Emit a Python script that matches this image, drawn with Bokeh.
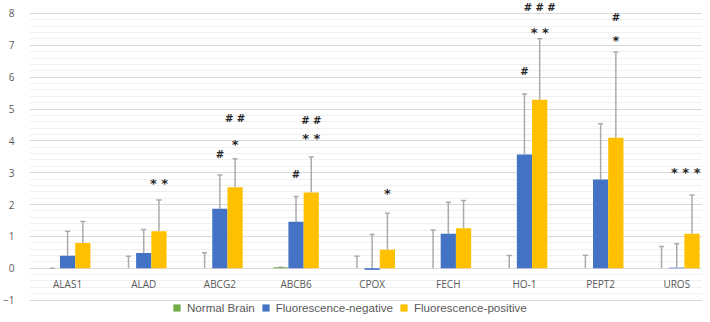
from bokeh.plotting import figure
from bokeh.models import (ColumnDataSource, Range1d, FixedTicker, Whisker, TeeHead,
                          Legend, LegendItem)
from bokeh.core.properties import value
from bokeh.embed import file_html
from bokeh.resources import INLINE

# ---------------- data ----------------
categories = ["ALAS1", "ALAD", "ABCG2", "ABCB6", "CPOX", "FECH", "HO-1", "PEPT2", "UROS"]
series_names = ["Normal Brain", "Fluorescence-negative", "Fluorescence-positive"]
normal_brain = [0.0, 0.0, 0.0, 0.03, 0.0, 0.0, 0.0, 0.0, 0.0]
normal_brain_err = [0.0, 0.38, 0.49, 0.0, 0.38, 1.20, 0.40, 0.41, 0.68]
fluor_negative = [0.39, 0.48, 1.87, 1.46, -0.05, 1.08, 3.57, 2.79, 0.02]
fluor_negative_err = [0.77, 0.74, 1.06, 0.79, 1.11, 0.99, 1.90, 1.75, 0.75]
fluor_positive = [0.79, 1.16, 2.54, 2.38, 0.58, 1.26, 5.29, 4.10, 1.08]
fluor_positive_err = [0.68, 0.98, 0.90, 1.11, 1.15, 0.87, 1.92, 2.69, 1.22]
y_ticks = [-1, 0, 1, 2, 3, 4, 5, 6, 7, 8]

# significance marks: category, series index, text, height
mark_category = ["ALAD", "ABCG2", "ABCG2", "ABCG2", "ABCB6", "ABCB6", "ABCB6", "CPOX",
                 "HO-1", "HO-1", "HO-1", "PEPT2", "PEPT2", "UROS"]
mark_series = [2, 1, 2, 2, 1, 2, 2, 2, 1, 2, 2, 2, 2, 2]
mark_text = ["* *", "#", "*", "# #", "#", "* *", "# #", "*", "#", "* *", "# # #", "#", "*", "* * *"]
mark_height = [2.77, 3.58, 3.98, 4.69, 2.94, 4.18, 4.65, 2.43, 6.17, 7.50, 8.18, 7.87, 7.25, 3.10]

# ---------------- styling ----------------
colors = ["#70AD47", "#4472C4", "#FFC000"]
offsets = [-0.2, 0.0, 0.2]
bar_w = 0.2
err_color = "#ABABAB"
text_grey = "#595959"
x_end = 8.838

p = figure(width=702, height=314, output_backend="svg", toolbar_location=None,
           x_axis_location=None,
           x_range=Range1d(0, x_end), y_range=Range1d(-1.452, 8.408),
           min_border_left=25, min_border_right=0, min_border_top=0, min_border_bottom=0)
p.outline_line_color = None

minor = [t + k * 0.2 for t in y_ticks[:-1] for k in range(1, 5)]
yt = FixedTicker(ticks=y_ticks, minor_ticks=minor)
p.yaxis.ticker = yt
p.ygrid.ticker = yt
p.yaxis.axis_line_color = None
p.yaxis.major_tick_line_color = None
p.yaxis.minor_tick_line_color = None
p.yaxis.major_label_text_font = "Open Sans"
p.yaxis.major_label_text_font_size = "10px"
p.yaxis.major_label_text_color = text_grey
p.yaxis.major_label_standoff = 9
p.ygrid.grid_line_color = "#D9D9D9"
p.ygrid.minor_grid_line_color = "#F0F0F0"
p.xgrid.grid_line_color = None

xpos = [i + 0.5 for i in range(len(categories))]

# category labels sit just under the zero line
p.text(x=xpos, y=[0] * len(categories), text=categories, text_font=value("Open Sans"),
       text_font_size="10px", text_color=text_grey, text_align="center",
       text_baseline="middle", y_offset=16)

vals = [normal_brain, fluor_negative, fluor_positive]
errs = [normal_brain_err, fluor_negative_err, fluor_positive_err]
items = []
for k in range(3):
    xs = [x + offsets[k] for x in xpos]
    src = ColumnDataSource(dict(x=xs, top=vals[k],
                                upper=[v + e for v, e in zip(vals[k], errs[k])]))
    r = p.vbar(x="x", top="top", bottom=0, width=bar_w, source=src,
               fill_color=colors[k], line_color=None)
    items.append(LegendItem(label=series_names[k], renderers=[r]))
    w = Whisker(base="x", upper="upper", lower="top", source=src,
                line_color=err_color, line_width=1.5,
                upper_head=TeeHead(size=5, line_color=err_color, line_width=1.5),
                lower_head=None)
    p.add_layout(w)

# significance marks (kept inside the plot's right edge)
idx = {c: i for i, c in enumerate(categories)}
hx, hy, ht, sx, sy, st = [], [], [], [], [], []
for c, s, t, h in zip(mark_category, mark_series, mark_text, mark_height):
    x = min(xpos[idx[c]] + offsets[s], x_end - 0.22)
    if "#" in t:
        hx.append(x); hy.append(h); ht.append(t)
    else:
        sx.append(x); sy.append(h); st.append(t)
p.text(x=hx, y=hy, text=ht, text_font=value("DejaVu Sans"), text_font_style="bold",
       text_font_size="10px", text_color="#262626", text_align="center",
       text_baseline="middle")
p.text(x=sx, y=sy, text=st, text_font=value("DejaVu Sans"), text_font_style="bold",
       text_font_size="13px", text_color="#262626", text_align="center",
       text_baseline="middle", y_offset=3)

legend = Legend(items=items, orientation="horizontal", location=(143, 0))
legend.margin = 0
legend.padding = 0
legend.spacing = 6
legend.label_standoff = 6
legend.glyph_width = 9
legend.glyph_height = 9
legend.label_height = 14
legend.label_text_font = "Liberation Sans"
legend.label_text_font_size = "11.6px"
legend.label_text_color = text_grey
legend.border_line_color = None
legend.background_fill_alpha = 0
p.add_layout(legend)

open("out.html", "w").write(file_html(p, INLINE))
